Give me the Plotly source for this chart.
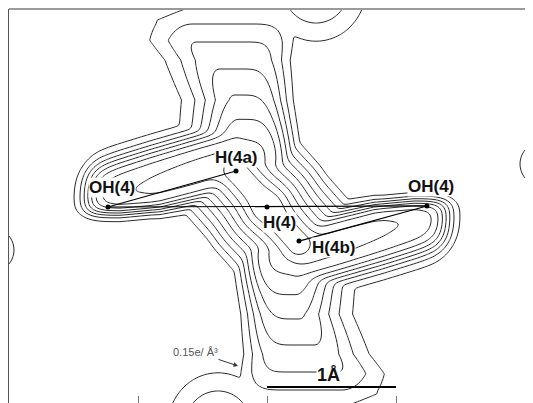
import numpy as np
import plotly.graph_objects as go

# ---------------- data (Å, origin at H(4), y up) ----------------
atom_names = ["OH(4)", "H(4a)", "H(4)", "H(4b)", "OH(4)"]
atom_x = [-1.233, -0.240, 0.000, 0.248, 1.240]
atom_y = [0.000, 0.279, 0.000, -0.264, 0.008]
bond_pairs = [(0, 1), (0, 4), (4, 3)]
contour_levels = [0.1, 0.9, 0.1]          # start, end, step
scale_bar_x = [0.0, 1.0]                   # 1 Å
tick_vals = [-1.0, 0.0, 1.0]

# density model (centrosymmetric about H(4)); model units = map pixels, 129 px = 1 Å
PX_PER_A = 129.0
CX, CY = 267.0, 207.0
ridge_seg = [236, 171, 267, 206]; ridge_peak, ridge_w = 1.05, 70.0
arm_tip = 87.0
arm_P_x = [60, 143, 240]; arm_P_v = [0.78, 0.82, 0.88]
arm_top_x = [60, 100, 150, 200, 240]; arm_top_y = [178, 165, 150, 136, 125]
arm_bot_x = [60, 120, 160, 200, 240]; arm_bot_y = [214, 213, 209, 200, 190]
arm_bw_x = [60, 150, 220]; arm_bw_v = [4.3, 4.5, 7.0]
stem_h_y = [-40, 0, 9, 24, 42, 69, 95, 119, 139, 160, 200]
stem_h_v = [0.125, 0.135, 0.145, 0.2, 0.3, 0.4, 0.5, 0.6, 0.7, 0.8, 0.85]
stem_l_y = [-30, 9, 20, 40, 60, 100, 150, 200]
stem_l_x = [222, 212, 192, 195, 215, 238, 240, 240]
stem_r_y = [-30, 30, 45, 60, 100, 130, 200]
stem_r_x = [250, 248, 244, 240, 240, 243, 250]
stem_sl, stem_sr = 44.0, 47.0
blob_c = [316, -12]; blob_a, blob_sx, blob_sy = 0.34, 32.0, 34.0
edge_c = [-8, 250]; edge_a, edge_s = 0.32, 14.4


def sig(z):
    return 1.0 / (1.0 + np.exp(-z))


def seg_dist(x, y, x0, y0, x1, y1):
    dx, dy = x1 - x0, y1 - y0
    t = np.clip(((x - x0) * dx + (y - y0) * dy) / (dx * dx + dy * dy), 0, 1)
    return np.hypot(x - x0 - t * dx, y - y0 - t * dy)


def components(x, y):
    out = []
    d = seg_dist(x, y, *ridge_seg)
    out.append(np.clip(ridge_peak - d / ridge_w, 0, None))
    P = np.interp(x, arm_P_x, arm_P_v)
    yt = np.interp(x, arm_top_x, arm_top_y)
    yb = np.interp(x, arm_bot_x, arm_bot_y)
    bw = np.interp(x, arm_bw_x, arm_bw_v)
    out.append(P * sig((x - arm_tip) / 7) * sig((250 - x) / 10) * sig((y - yt) / 8) * sig((yb - y) / bw))
    h = np.interp(y, stem_h_y, stem_h_v)
    xl = np.interp(y, stem_l_y, stem_l_x)
    xr = np.interp(y, stem_r_y, stem_r_x)
    ul = np.clip(xl - x, 0, None) / stem_sl
    ur = np.clip(x - xr, 0, None) / stem_sr
    out.append(h * np.exp(-ul ** 2 - ur ** 4) * sig((178 - y) / 10))
    out.append(blob_a * np.exp(-0.5 * (((x - blob_c[0]) / blob_sx) ** 2 + ((y - blob_c[1]) / blob_sy) ** 2)))
    out.append(edge_a * np.exp(-((x - edge_c[0]) ** 2 + (y - edge_c[1]) ** 2) / (2 * edge_s ** 2)))
    return out


xs = np.linspace(0, 540, 541)
ys = np.linspace(414, 0, 415)
gx, gy = np.meshgrid(xs, ys)
comps = components(gx, gy) + components(2 * CX - gx, 2 * CY - gy)
p = 10
F = sum(np.clip(c, 0, None) ** p for c in comps) ** (1.0 / p)
X = (xs - CX) / PX_PER_A
Y = (CY - ys) / PX_PER_A

fig = go.Figure()
fig.add_trace(go.Contour(
    x=X, y=Y, z=F,
    contours=dict(start=contour_levels[0], end=contour_levels[1], size=contour_levels[2], coloring="lines"),
    colorscale=[[0, "#2a2a2a"], [1, "#2a2a2a"]], line=dict(width=1), line_smoothing=0.9,
    showscale=False, hoverinfo="skip"))

for a, b in bond_pairs:
    fig.add_trace(go.Scatter(x=[atom_x[a], atom_x[b]], y=[atom_y[a], atom_y[b]], mode="lines",
                             line=dict(color="black", width=1.2), hoverinfo="skip", showlegend=False))
fig.add_trace(go.Scatter(x=atom_x, y=atom_y, mode="markers", marker=dict(color="black", size=5),
                         hoverinfo="skip", showlegend=False))
fig.add_trace(go.Scatter(x=scale_bar_x, y=[-1.395, -1.395], mode="lines",
                         line=dict(color="black", width=2), hoverinfo="skip", showlegend=False))

lab = dict(family="Liberation Sans, Arial, sans-serif", size=17, color="#111")
label_off = [(0.03, 0.148), (0.0, 0.108), (0.10, -0.12), (0.27, -0.05), (0.03, 0.148)]
for i, name in enumerate(atom_names):
    fig.add_annotation(x=atom_x[i] + label_off[i][0], y=atom_y[i] + label_off[i][1], text="<b>%s</b>" % name,
                       showarrow=False, font=lab, bgcolor="white", borderpad=0)
fig.add_annotation(x=0.48, y=-1.30, text="<b>1Å</b>", showarrow=False, font=dict(lab, size=18),
                   bgcolor="white", borderpad=0)
fig.add_annotation(x=-0.225, y=-1.232, text="0.15e/ Å³", showarrow=True, ax=-42, ay=-14,
                   arrowhead=2, arrowsize=0.9, arrowwidth=1, arrowcolor="#333",
                   font=dict(family="Liberation Sans, Arial, sans-serif", size=11, color="#555"))

fig.add_shape(type="line", xref="paper", yref="paper", x0=0, x1=1, y0=1, y1=1,
              line=dict(color="#9a9a9a", width=2))

# the page body has an 8 px margin: figure spans page px 8..533 x 8..403
fig.update_layout(
    width=525, height=395, margin=dict(l=1, r=0, t=1, b=0),
    paper_bgcolor="white", plot_bgcolor="white", showlegend=False,
    xaxis=dict(range=[(9 - CX) / PX_PER_A, (533 - CX) / PX_PER_A], showgrid=False, zeroline=False,
               showline=False, ticks="inside", ticklen=7, tickcolor="#777", tickwidth=1,
               tickvals=tick_vals, showticklabels=False),
    yaxis=dict(range=[(CY - 403) / PX_PER_A, (CY - 9) / PX_PER_A], showgrid=False, zeroline=False,
               showline=True, linecolor="#555", linewidth=1, ticks="", showticklabels=False),
)
fig.write_html("out.html")
